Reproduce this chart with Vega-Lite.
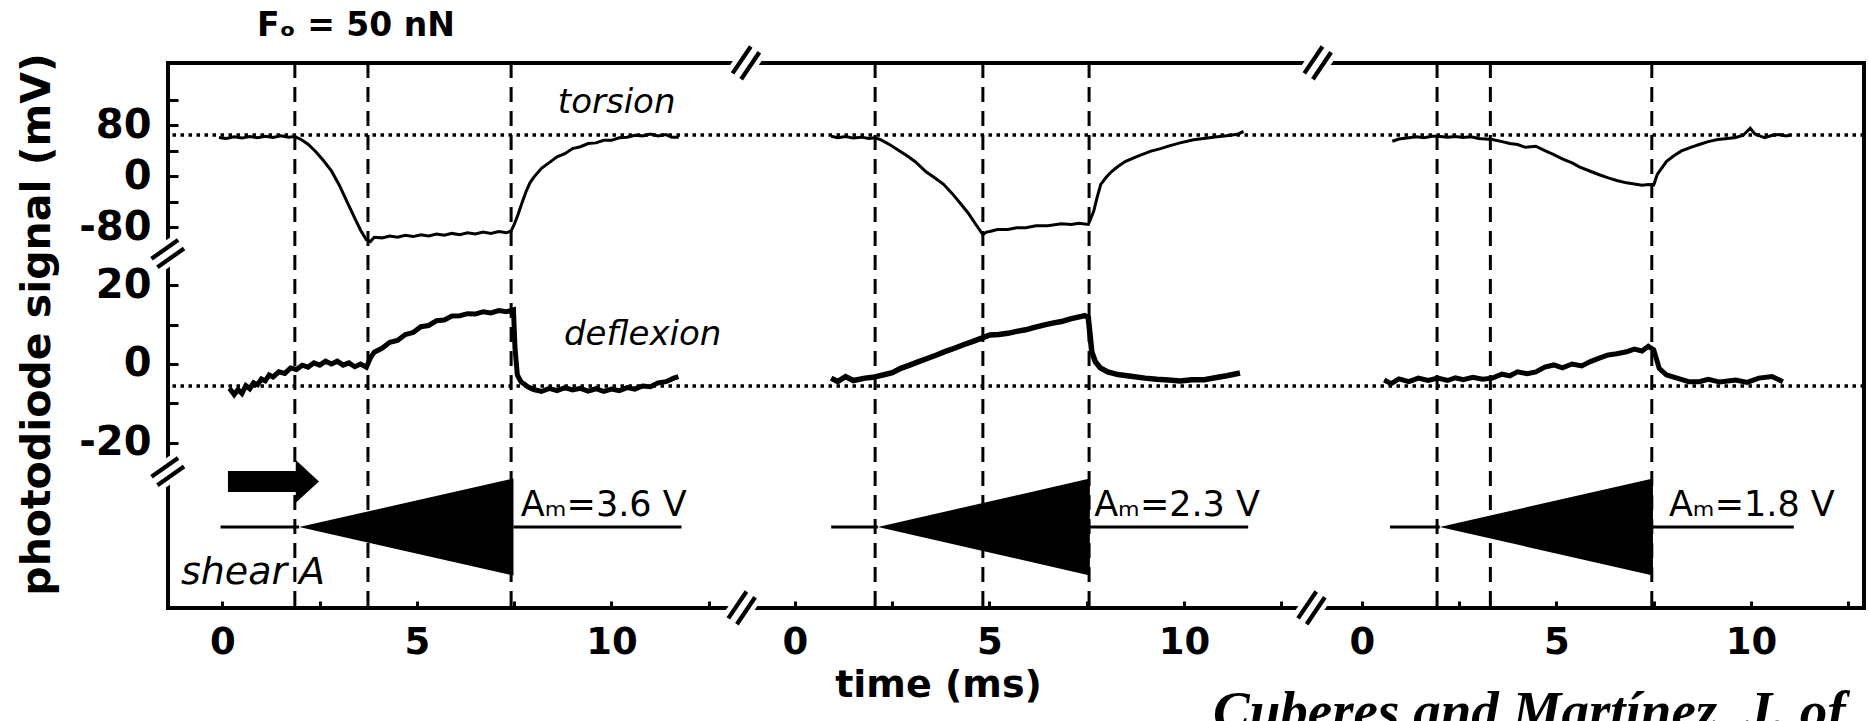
{
  "$schema": "https://vega.github.io/schema/vega-lite/v6.json",
  "width": 1696,
  "height": 545,
  "autosize": {"type": "none"},
  "padding": {"left": 168, "top": 63, "right": 5, "bottom": 113},
  "background": "white",
  "config": {
    "view": {"stroke": "black", "strokeWidth": 4},
    "axis": {"grid": false, "domain": false, "tickColor": "black", "tickWidth": 3, "labelColor": "black", "labelFont": "DejaVu Sans", "labelFontWeight": "bold", "titleColor": "black", "titleFont": "DejaVu Sans", "titleFontWeight": "bold", "labelOverlap": false, "labelFlush": false},
    "axisX": {"tickSize": -7, "labelFontSize": 37, "labelPadding": 23, "titleFontSize": 38},
    "axisY": {"tickSize": -10, "labelFontSize": 40, "labelPadding": 27}
  },
  "datasets": {
    "tor": [
      {"p":1,"t":-0.09,"v":60.5},{"p":1,"t":0.1,"v":59},{"p":1,"t":0.3,"v":61.5},{"p":1,"t":0.5,"v":59.5},{"p":1,"t":0.7,"v":62},{"p":1,"t":0.9,"v":60},{"p":1,"t":1.1,"v":62.5},{"p":1,"t":1.3,"v":60.5},{"p":1,"t":1.5,"v":63},{"p":1,"t":1.7,"v":61},{"p":1,"t":1.85,"v":62},{"p":1,"t":2.0,"v":58},{"p":1,"t":2.2,"v":50},{"p":1,"t":2.4,"v":38},{"p":1,"t":2.6,"v":24},{"p":1,"t":2.8,"v":8},{"p":1,"t":3.0,"v":-14},{"p":1,"t":3.2,"v":-40},{"p":1,"t":3.4,"v":-66},{"p":1,"t":3.55,"v":-85},{"p":1,"t":3.7,"v":-100},{"p":1,"t":3.8,"v":-103},{"p":1,"t":3.9,"v":-96},{"p":1,"t":4.1,"v":-97},{"p":1,"t":4.3,"v":-94},{"p":1,"t":4.5,"v":-96},{"p":1,"t":4.7,"v":-93},{"p":1,"t":4.9,"v":-95},{"p":1,"t":5.1,"v":-92},{"p":1,"t":5.3,"v":-94},{"p":1,"t":5.5,"v":-91},{"p":1,"t":5.7,"v":-93},{"p":1,"t":5.9,"v":-90},{"p":1,"t":6.1,"v":-92},{"p":1,"t":6.3,"v":-89},{"p":1,"t":6.5,"v":-91},{"p":1,"t":6.7,"v":-88},{"p":1,"t":6.9,"v":-90},{"p":1,"t":7.1,"v":-87},{"p":1,"t":7.3,"v":-89},{"p":1,"t":7.42,"v":-86},{"p":1,"t":7.5,"v":-76},{"p":1,"t":7.6,"v":-60},{"p":1,"t":7.7,"v":-42},{"p":1,"t":7.8,"v":-25},{"p":1,"t":7.9,"v":-11},{"p":1,"t":8.0,"v":-2},{"p":1,"t":8.2,"v":12},{"p":1,"t":8.4,"v":21},{"p":1,"t":8.6,"v":30},{"p":1,"t":8.8,"v":35},{"p":1,"t":9.0,"v":43},{"p":1,"t":9.2,"v":46},{"p":1,"t":9.4,"v":51},{"p":1,"t":9.6,"v":52},{"p":1,"t":9.8,"v":56},{"p":1,"t":10.0,"v":56},{"p":1,"t":10.2,"v":60},{"p":1,"t":10.4,"v":61},{"p":1,"t":10.6,"v":64},{"p":1,"t":10.8,"v":63},{"p":1,"t":11.0,"v":66},{"p":1,"t":11.2,"v":63},{"p":1,"t":11.4,"v":65},{"p":1,"t":11.55,"v":61},{"p":1,"t":11.73,"v":61},
      {"p":2,"t":0.93,"v":62.5},{"p":2,"t":1.1,"v":60},{"p":2,"t":1.3,"v":62},{"p":2,"t":1.5,"v":59.5},{"p":2,"t":1.7,"v":61},{"p":2,"t":1.9,"v":59},{"p":2,"t":2.05,"v":60},{"p":2,"t":2.2,"v":57},{"p":2,"t":2.44,"v":49},{"p":2,"t":2.65,"v":41},{"p":2,"t":2.9,"v":31},{"p":2,"t":3.1,"v":22},{"p":2,"t":3.36,"v":7},{"p":2,"t":3.6,"v":-3},{"p":2,"t":3.82,"v":-13},{"p":2,"t":4.05,"v":-28},{"p":2,"t":4.28,"v":-45},{"p":2,"t":4.45,"v":-58},{"p":2,"t":4.65,"v":-76},{"p":2,"t":4.83,"v":-92},{"p":2,"t":4.92,"v":-88},{"p":2,"t":5.01,"v":-87},{"p":2,"t":5.2,"v":-84},{"p":2,"t":5.47,"v":-84},{"p":2,"t":5.7,"v":-81},{"p":2,"t":5.93,"v":-81},{"p":2,"t":6.2,"v":-78},{"p":2,"t":6.5,"v":-78},{"p":2,"t":6.85,"v":-75},{"p":2,"t":7.1,"v":-76},{"p":2,"t":7.3,"v":-74},{"p":2,"t":7.54,"v":-76},{"p":2,"t":7.62,"v":-64},{"p":2,"t":7.68,"v":-55},{"p":2,"t":7.76,"v":-35},{"p":2,"t":7.86,"v":-13},{"p":2,"t":8.0,"v":-2},{"p":2,"t":8.14,"v":7},{"p":2,"t":8.3,"v":15},{"p":2,"t":8.5,"v":23},{"p":2,"t":8.8,"v":31},{"p":2,"t":9.15,"v":39},{"p":2,"t":9.4,"v":43},{"p":2,"t":9.6,"v":47},{"p":2,"t":9.9,"v":52},{"p":2,"t":10.25,"v":57},{"p":2,"t":10.5,"v":59},{"p":2,"t":10.75,"v":61},{"p":2,"t":10.98,"v":62.5},{"p":2,"t":11.2,"v":64},{"p":2,"t":11.4,"v":66},{"p":2,"t":11.53,"v":70},
      {"p":3,"t":0.78,"v":54.6},{"p":3,"t":0.95,"v":58},{"p":3,"t":1.2,"v":60},{"p":3,"t":1.4,"v":61.5},{"p":3,"t":1.6,"v":60},{"p":3,"t":1.8,"v":62.5},{"p":3,"t":1.95,"v":62.5},{"p":3,"t":2.2,"v":61},{"p":3,"t":2.4,"v":62},{"p":3,"t":2.6,"v":60.4},{"p":3,"t":2.8,"v":61.5},{"p":3,"t":3.0,"v":59},{"p":3,"t":3.35,"v":57.3},{"p":3,"t":3.6,"v":54},{"p":3,"t":3.8,"v":51},{"p":3,"t":4.0,"v":49.4},{"p":3,"t":4.2,"v":45},{"p":3,"t":4.47,"v":46.7},{"p":3,"t":4.7,"v":40},{"p":3,"t":4.93,"v":33.7},{"p":3,"t":5.15,"v":27},{"p":3,"t":5.4,"v":20.7},{"p":3,"t":5.6,"v":14},{"p":3,"t":5.87,"v":7.5},{"p":3,"t":6.1,"v":2},{"p":3,"t":6.33,"v":-2.8},{"p":3,"t":6.55,"v":-7},{"p":3,"t":6.8,"v":-10.7},{"p":3,"t":7.0,"v":-12.5},{"p":3,"t":7.2,"v":-14.5},{"p":3,"t":7.36,"v":-13.3},{"p":3,"t":7.5,"v":-14},{"p":3,"t":7.59,"v":2.4},{"p":3,"t":7.7,"v":12},{"p":3,"t":7.83,"v":23},{"p":3,"t":8.0,"v":31},{"p":3,"t":8.2,"v":39},{"p":3,"t":8.45,"v":45},{"p":3,"t":8.67,"v":49.4},{"p":3,"t":8.9,"v":54},{"p":3,"t":9.14,"v":57.3},{"p":3,"t":9.4,"v":59},{"p":3,"t":9.61,"v":60.4},{"p":3,"t":9.8,"v":64},{"p":3,"t":9.98,"v":75},{"p":3,"t":10.1,"v":66},{"p":3,"t":10.35,"v":60},{"p":3,"t":10.55,"v":64},{"p":3,"t":10.72,"v":65},{"p":3,"t":10.9,"v":63},{"p":3,"t":11.0,"v":64}
    ],
    "def": [
      {"p":1,"t":0.18,"v":-6.2},{"p":1,"t":0.3,"v":-7.8},{"p":1,"t":0.4,"v":-6.5},{"p":1,"t":0.5,"v":-7.5},{"p":1,"t":0.6,"v":-5.5},{"p":1,"t":0.7,"v":-6.3},{"p":1,"t":0.8,"v":-4.8},{"p":1,"t":0.9,"v":-5.3},{"p":1,"t":1.0,"v":-3.8},{"p":1,"t":1.1,"v":-4.3},{"p":1,"t":1.2,"v":-2.8},{"p":1,"t":1.3,"v":-3.3},{"p":1,"t":1.45,"v":-2},{"p":1,"t":1.6,"v":-2.4},{"p":1,"t":1.75,"v":-1},{"p":1,"t":1.9,"v":-1.4},{"p":1,"t":2.05,"v":-0.3},{"p":1,"t":2.2,"v":-0.8},{"p":1,"t":2.35,"v":0.3},{"p":1,"t":2.5,"v":-0.3},{"p":1,"t":2.65,"v":0.7},{"p":1,"t":2.8,"v":0},{"p":1,"t":2.95,"v":0.7},{"p":1,"t":3.1,"v":-0.3},{"p":1,"t":3.25,"v":0.3},{"p":1,"t":3.4,"v":-0.7},{"p":1,"t":3.55,"v":0},{"p":1,"t":3.7,"v":-0.8},{"p":1,"t":3.8,"v":1.5},{"p":1,"t":3.9,"v":3},{"p":1,"t":4.1,"v":4},{"p":1,"t":4.3,"v":5.5},{"p":1,"t":4.5,"v":6},{"p":1,"t":4.7,"v":7.5},{"p":1,"t":4.9,"v":8},{"p":1,"t":5.1,"v":9.5},{"p":1,"t":5.3,"v":9.8},{"p":1,"t":5.5,"v":11},{"p":1,"t":5.7,"v":11.2},{"p":1,"t":5.9,"v":12.2},{"p":1,"t":6.1,"v":12.3},{"p":1,"t":6.3,"v":12.8},{"p":1,"t":6.5,"v":12.7},{"p":1,"t":6.7,"v":13.3},{"p":1,"t":6.9,"v":13},{"p":1,"t":7.1,"v":13.6},{"p":1,"t":7.3,"v":13.3},{"p":1,"t":7.48,"v":13.8},{"p":1,"t":7.52,"v":4},{"p":1,"t":7.58,"v":-2.8},{"p":1,"t":7.67,"v":-4.5},{"p":1,"t":7.85,"v":-5.8},{"p":1,"t":8.0,"v":-6.5},{"p":1,"t":8.2,"v":-7},{"p":1,"t":8.4,"v":-6.2},{"p":1,"t":8.6,"v":-6.8},{"p":1,"t":8.8,"v":-6},{"p":1,"t":9.0,"v":-6.6},{"p":1,"t":9.2,"v":-6.2},{"p":1,"t":9.4,"v":-6.9},{"p":1,"t":9.6,"v":-6.3},{"p":1,"t":9.8,"v":-7},{"p":1,"t":10.0,"v":-6.4},{"p":1,"t":10.2,"v":-6.8},{"p":1,"t":10.4,"v":-6},{"p":1,"t":10.6,"v":-6.4},{"p":1,"t":10.8,"v":-5.6},{"p":1,"t":11.0,"v":-5.8},{"p":1,"t":11.2,"v":-4.8},{"p":1,"t":11.4,"v":-4.5},{"p":1,"t":11.6,"v":-3.6},{"p":1,"t":11.72,"v":-3.2},
      {"p":2,"t":0.93,"v":-3.6},{"p":2,"t":1.1,"v":-4.5},{"p":2,"t":1.3,"v":-3.2},{"p":2,"t":1.5,"v":-4.2},{"p":2,"t":1.8,"v":-3.6},{"p":2,"t":2.0,"v":-3.4},{"p":2,"t":2.26,"v":-2.8},{"p":2,"t":2.5,"v":-2.2},{"p":2,"t":2.72,"v":-1.1},{"p":2,"t":2.95,"v":-0.3},{"p":2,"t":3.18,"v":0.6},{"p":2,"t":3.4,"v":1.4},{"p":2,"t":3.64,"v":2.3},{"p":2,"t":3.87,"v":3.2},{"p":2,"t":4.1,"v":4},{"p":2,"t":4.33,"v":4.9},{"p":2,"t":4.56,"v":5.7},{"p":2,"t":4.8,"v":6.6},{"p":2,"t":5.01,"v":7.4},{"p":2,"t":5.24,"v":7.5},{"p":2,"t":5.47,"v":7.8},{"p":2,"t":5.7,"v":8.3},{"p":2,"t":5.93,"v":8.7},{"p":2,"t":6.16,"v":9.3},{"p":2,"t":6.39,"v":9.9},{"p":2,"t":6.62,"v":10.4},{"p":2,"t":6.85,"v":10.8},{"p":2,"t":7.08,"v":11.5},{"p":2,"t":7.31,"v":12},{"p":2,"t":7.45,"v":12.3},{"p":2,"t":7.54,"v":11.8},{"p":2,"t":7.63,"v":3.1},{"p":2,"t":7.72,"v":0.6},{"p":2,"t":7.85,"v":-1},{"p":2,"t":8.04,"v":-2},{"p":2,"t":8.3,"v":-2.7},{"p":2,"t":8.68,"v":-3.2},{"p":2,"t":9.0,"v":-3.6},{"p":2,"t":9.3,"v":-3.9},{"p":2,"t":9.6,"v":-4.1},{"p":2,"t":9.9,"v":-4.3},{"p":2,"t":10.2,"v":-4},{"p":2,"t":10.52,"v":-4},{"p":2,"t":10.8,"v":-3.5},{"p":2,"t":11.1,"v":-3},{"p":2,"t":11.44,"v":-2.3},
      {"p":3,"t":0.57,"v":-4.1},{"p":3,"t":0.75,"v":-5},{"p":3,"t":0.95,"v":-3.8},{"p":3,"t":1.2,"v":-4.5},{"p":3,"t":1.45,"v":-3.6},{"p":3,"t":1.7,"v":-4.2},{"p":3,"t":1.95,"v":-3.6},{"p":3,"t":2.2,"v":-4.2},{"p":3,"t":2.4,"v":-3.5},{"p":3,"t":2.6,"v":-4},{"p":3,"t":2.85,"v":-3.4},{"p":3,"t":3.1,"v":-3.9},{"p":3,"t":3.35,"v":-3.6},{"p":3,"t":3.6,"v":-2.6},{"p":3,"t":3.8,"v":-3},{"p":3,"t":4.0,"v":-2},{"p":3,"t":4.25,"v":-2.5},{"p":3,"t":4.47,"v":-2},{"p":3,"t":4.7,"v":-0.8},{"p":3,"t":4.93,"v":-0.25},{"p":3,"t":5.15,"v":-1},{"p":3,"t":5.4,"v":0},{"p":3,"t":5.65,"v":-0.5},{"p":3,"t":5.87,"v":0.6},{"p":3,"t":6.1,"v":1.5},{"p":3,"t":6.33,"v":2.3},{"p":3,"t":6.55,"v":2.6},{"p":3,"t":6.8,"v":3.1},{"p":3,"t":7.0,"v":3.8},{"p":3,"t":7.2,"v":3.3},{"p":3,"t":7.36,"v":4.5},{"p":3,"t":7.5,"v":3.6},{"p":3,"t":7.64,"v":-1.1},{"p":3,"t":7.83,"v":-2.8},{"p":3,"t":8.1,"v":-3.6},{"p":3,"t":8.4,"v":-4.5},{"p":3,"t":8.67,"v":-4.5},{"p":3,"t":8.9,"v":-3.9},{"p":3,"t":9.2,"v":-4.6},{"p":3,"t":9.61,"v":-4.1},{"p":3,"t":9.9,"v":-4.7},{"p":3,"t":10.2,"v":-3.6},{"p":3,"t":10.54,"v":-3.2},{"p":3,"t":10.82,"v":-4.5}
    ],
    "tri": [
      {"p":1,"t":1.97,"hi":0,"lo":0},{"p":1,"t":7.48,"hi":1,"lo":-1},
      {"p":2,"t":2.13,"hi":0,"lo":0},{"p":2,"t":7.58,"hi":1,"lo":-1},
      {"p":3,"t":2.0,"hi":0,"lo":0},{"p":3,"t":7.48,"hi":1,"lo":-1}
    ],
    "base": [
      {"p":1,"t0":-0.05,"t1":1.97},{"p":1,"t0":7.48,"t1":11.8},
      {"p":2,"t0":0.93,"t1":2.13},{"p":2,"t0":7.58,"t1":11.65},
      {"p":3,"t0":0.72,"t1":2.0},{"p":3,"t0":7.48,"t1":11.1}
    ],
    "ev": [
      {"p":1,"t":1.86},{"p":1,"t":3.74},{"p":1,"t":7.42},
      {"p":2,"t":2.06},{"p":2,"t":4.83},{"p":2,"t":7.56},
      {"p":3,"t":1.93},{"p":3,"t":3.3},{"p":3,"t":7.45}
    ],
    "ref": [{"s":"torsion","v":64.3},{"s":"deflexion","v":-5.6}],
    "notes": [
      {"g":"tor","t":8.62,"v":98.8,"label":"torsion"},
      {"g":"def","t":8.78,"v":4.8,"label":"deflexion"},
      {"g":"shear","t":-1.07,"v":-1.18,"label":"shear A"}
    ],
    "heading": [{"t":0.887,"v":219.6,"label":"Fₒ = 50 nN"}],
    "amp": [
      {"p":1,"t":7.67,"v":0.23,"label":"Aₘ=3.6 V"},
      {"p":2,"t":7.69,"v":0.23,"label":"Aₘ=2.3 V"},
      {"p":3,"t":7.89,"v":0.23,"label":"Aₘ=1.8 V"}
    ],
    "arrow": [{"t":1.31,"v":0.94}],
    "brk": [
      {"k":"h","t":13.46,"v":9.567},{"k":"h","t":28.16,"v":9.567},
      {"k":"h","t":13.35,"v":-1.67},{"k":"h","t":28.0,"v":-1.67},
      {"k":"v","t":-1.401,"v":5.63},{"k":"v","t":-1.401,"v":1.134}
    ],
    "cite": [{"t":-3.83,"v":-4.17,"label":"Cuberes and Martínez, J. of"}]
  },
  "resolve": {"scale": {"x": "independent", "y": "independent"}, "axis": {"x": "independent", "y": "independent"}},
  "layer": [
    {
      "layer": [
        {"data": {"name": "ev"}, "transform": [{"filter": "datum.p == 1"}],
         "mark": {"type": "rule", "color": "black", "strokeWidth": 3, "strokeDash": [15, 9]},
         "encoding": {"x": {"field": "t", "type": "quantitative", "scale": {"domain": [-1.401, 42.199], "nice": false, "zero": false},
           "axis": {"orient": "bottom", "values": [0, 2.5, 5, 7.5, 10, 12.5], "labelExpr": "datum.value == 0 ? '0' : datum.value == 5 ? '5' : datum.value == 10 ? '10' : ''", "title": null}}}},
        {"data": {"name": "ref"}, "transform": [{"filter": "datum.s == 'torsion'"}],
         "mark": {"type": "rule", "color": "black", "strokeWidth": 3.5, "strokeDash": [3.5, 4.5]},
         "encoding": {"y": {"field": "v", "type": "quantitative", "scale": {"domain": [-677.6, 177.3], "nice": false, "zero": false},
           "axis": {"orient": "left", "values": [120, 80, 40, 0, -40, -80], "labelExpr": "datum.value == 80 ? '80' : datum.value == 0 ? '0' : datum.value == -80 ? '-80' : ''", "title": "photodiode signal (mV)", "titleFontSize": 41, "titleAngle": 270, "titleX": -131, "titleY": 261, "titleAlign": "center", "titleBaseline": "middle"}}}},
        {"data": {"name": "tor"}, "transform": [{"filter": "datum.p == 1"}],
         "mark": {"type": "line", "color": "black", "strokeWidth": 3},
         "encoding": {"x": {"field": "t", "type": "quantitative"}, "y": {"field": "v", "type": "quantitative"}}},
        {"data": {"name": "notes"}, "transform": [{"filter": "datum.g == 'tor'"}],
         "mark": {"type": "text", "font": "DejaVu Sans", "fontStyle": "italic", "fontSize": 34, "align": "left", "baseline": "alphabetic", "color": "black"},
         "encoding": {"x": {"field": "t", "type": "quantitative"}, "y": {"field": "v", "type": "quantitative"}, "text": {"field": "label"}}},
        {"data": {"name": "heading"},
         "mark": {"type": "text", "font": "DejaVu Sans", "fontWeight": "bold", "fontSize": 33, "align": "left", "baseline": "alphabetic", "color": "black"},
         "encoding": {"x": {"field": "t", "type": "quantitative"}, "y": {"field": "v", "type": "quantitative"}, "text": {"field": "label"}}}
      ]
    },
    {
      "layer": [
        {"data": {"name": "ref"}, "transform": [{"filter": "datum.s == 'deflexion'"}],
         "mark": {"type": "rule", "color": "black", "strokeWidth": 3.5, "strokeDash": [3.5, 4.5]},
         "encoding": {"y": {"field": "v", "type": "quantitative", "scale": {"domain": [-62.1, 76.6], "nice": false, "zero": false},
           "axis": {"orient": "left", "values": [20, 10, 0, -10, -20], "labelExpr": "datum.value == 20 ? '20' : datum.value == 0 ? '0' : datum.value == -20 ? '-20' : ''", "title": null}}}},
        {"data": {"name": "def"}, "transform": [{"filter": "datum.p == 1"}],
         "mark": {"type": "line", "color": "black", "strokeWidth": 5},
         "encoding": {"x": {"field": "t", "type": "quantitative", "scale": {"domain": [-1.401, 42.199], "nice": false, "zero": false}, "axis": null}, "y": {"field": "v", "type": "quantitative"}}},
        {"data": {"name": "notes"}, "transform": [{"filter": "datum.g == 'def'"}],
         "mark": {"type": "text", "font": "DejaVu Sans", "fontStyle": "italic", "fontSize": 34, "align": "left", "baseline": "alphabetic", "color": "black"},
         "encoding": {"x": {"field": "t", "type": "quantitative"}, "y": {"field": "v", "type": "quantitative"}, "text": {"field": "label"}}}
      ]
    },
    {
      "layer": [
        {"data": {"name": "base"}, "transform": [{"filter": "datum.p == 1"}],
         "mark": {"type": "rule", "color": "black", "strokeWidth": 3},
         "encoding": {"x": {"field": "t0", "type": "quantitative", "scale": {"domain": [-1.401, 42.199], "nice": false, "zero": false}, "axis": null}, "x2": {"field": "t1"},
           "y": {"datum": 0, "type": "quantitative", "scale": {"domain": [-1.67, 9.567], "nice": false, "zero": false}, "axis": null}}},
        {"data": {"name": "tri"}, "transform": [{"filter": "datum.p == 1"}],
         "mark": {"type": "area", "color": "black", "opacity": 1},
         "encoding": {"x": {"field": "t", "type": "quantitative"}, "y": {"field": "hi", "type": "quantitative"}, "y2": {"field": "lo"}}},
        {"data": {"name": "arrow"},
         "mark": {"type": "point", "filled": true, "color": "black", "opacity": 1, "size": 8281, "shape": "M-1,-0.23L0.49,-0.23L0.49,-0.47L1,0L0.49,0.47L0.49,0.23L-1,0.23Z"},
         "encoding": {"x": {"field": "t", "type": "quantitative"}, "y": {"field": "v", "type": "quantitative"}}},
        {"data": {"name": "notes"}, "transform": [{"filter": "datum.g == 'shear'"}],
         "mark": {"type": "text", "font": "DejaVu Sans", "fontStyle": "italic", "fontSize": 38, "align": "left", "baseline": "alphabetic", "color": "black"},
         "encoding": {"x": {"field": "t", "type": "quantitative"}, "y": {"field": "v", "type": "quantitative"}, "text": {"field": "label"}}},
        {"data": {"name": "amp"}, "transform": [{"filter": "datum.p == 1"}],
         "mark": {"type": "text", "font": "DejaVu Sans", "fontSize": 35, "align": "left", "baseline": "alphabetic", "color": "black"},
         "encoding": {"x": {"field": "t", "type": "quantitative"}, "y": {"field": "v", "type": "quantitative"}, "text": {"field": "label"}}},
        {"data": {"name": "brk"}, "transform": [{"filter": "datum.k == 'h'"}],
         "mark": {"type": "text", "text": "=", "font": "DejaVu Sans", "fontSize": 52, "angle": -56, "align": "center", "baseline": "middle", "fill": "white", "stroke": "white", "strokeWidth": 9},
         "encoding": {"x": {"field": "t", "type": "quantitative"}, "y": {"field": "v", "type": "quantitative"}}},
        {"data": {"name": "brk"}, "transform": [{"filter": "datum.k == 'h'"}],
         "mark": {"type": "text", "text": "=", "font": "DejaVu Sans", "fontSize": 52, "angle": -56, "align": "center", "baseline": "middle", "color": "black"},
         "encoding": {"x": {"field": "t", "type": "quantitative"}, "y": {"field": "v", "type": "quantitative"}}},
        {"data": {"name": "brk"}, "transform": [{"filter": "datum.k == 'v'"}],
         "mark": {"type": "text", "text": "=", "font": "DejaVu Sans", "fontSize": 52, "angle": -35, "align": "center", "baseline": "middle", "fill": "white", "stroke": "white", "strokeWidth": 9},
         "encoding": {"x": {"field": "t", "type": "quantitative"}, "y": {"field": "v", "type": "quantitative"}}},
        {"data": {"name": "brk"}, "transform": [{"filter": "datum.k == 'v'"}],
         "mark": {"type": "text", "text": "=", "font": "DejaVu Sans", "fontSize": 52, "angle": -35, "align": "center", "baseline": "middle", "color": "black"},
         "encoding": {"x": {"field": "t", "type": "quantitative"}, "y": {"field": "v", "type": "quantitative"}}}
      ]
    },
    {
      "layer": [
        {"data": {"name": "ev"}, "transform": [{"filter": "datum.p == 2"}],
         "mark": {"type": "rule", "color": "black", "strokeWidth": 3, "strokeDash": [15, 9]},
         "encoding": {"x": {"field": "t", "type": "quantitative", "scale": {"domain": [-16.118, 27.481], "nice": false, "zero": false},
           "axis": {"orient": "bottom", "values": [0, 2.5, 5, 7.5, 10, 12.5], "labelExpr": "datum.value == 0 ? '0' : datum.value == 5 ? '5' : datum.value == 10 ? '10' : ''", "title": "time (ms)", "titleX": 770, "titleY": 88, "titleAlign": "center", "titleBaseline": "alphabetic"}}}},
        {"data": {"name": "tor"}, "transform": [{"filter": "datum.p == 2"}],
         "mark": {"type": "line", "color": "black", "strokeWidth": 3},
         "encoding": {"x": {"field": "t", "type": "quantitative"}, "y": {"field": "v", "type": "quantitative", "scale": {"domain": [-677.6, 177.3], "nice": false, "zero": false}, "axis": null}}}
      ]
    },
    {
      "layer": [
        {"data": {"name": "def"}, "transform": [{"filter": "datum.p == 2"}],
         "mark": {"type": "line", "color": "black", "strokeWidth": 5.5},
         "encoding": {"x": {"field": "t", "type": "quantitative", "scale": {"domain": [-16.118, 27.481], "nice": false, "zero": false}, "axis": null}, "y": {"field": "v", "type": "quantitative", "scale": {"domain": [-62.1, 76.6], "nice": false, "zero": false}, "axis": null}}}
      ]
    },
    {
      "layer": [
        {"data": {"name": "base"}, "transform": [{"filter": "datum.p == 2"}],
         "mark": {"type": "rule", "color": "black", "strokeWidth": 3},
         "encoding": {"x": {"field": "t0", "type": "quantitative", "scale": {"domain": [-16.118, 27.481], "nice": false, "zero": false}, "axis": null}, "x2": {"field": "t1"},
           "y": {"datum": 0, "type": "quantitative", "scale": {"domain": [-1.67, 9.567], "nice": false, "zero": false}, "axis": null}}},
        {"data": {"name": "tri"}, "transform": [{"filter": "datum.p == 2"}],
         "mark": {"type": "area", "color": "black", "opacity": 1},
         "encoding": {"x": {"field": "t", "type": "quantitative"}, "y": {"field": "hi", "type": "quantitative"}, "y2": {"field": "lo"}}},
        {"data": {"name": "amp"}, "transform": [{"filter": "datum.p == 2"}],
         "mark": {"type": "text", "font": "DejaVu Sans", "fontSize": 35, "align": "left", "baseline": "alphabetic", "color": "black"},
         "encoding": {"x": {"field": "t", "type": "quantitative"}, "y": {"field": "v", "type": "quantitative"}, "text": {"field": "label"}}}
      ]
    },
    {
      "layer": [
        {"data": {"name": "ev"}, "transform": [{"filter": "datum.p == 3"}],
         "mark": {"type": "rule", "color": "black", "strokeWidth": 3, "strokeDash": [15, 9]},
         "encoding": {"x": {"field": "t", "type": "quantitative", "scale": {"domain": [-30.694, 12.905], "nice": false, "zero": false},
           "axis": {"orient": "bottom", "values": [0, 2.5, 5, 7.5, 10, 12.5], "labelExpr": "datum.value == 0 ? '0' : datum.value == 5 ? '5' : datum.value == 10 ? '10' : ''", "title": null}}}},
        {"data": {"name": "tor"}, "transform": [{"filter": "datum.p == 3"}],
         "mark": {"type": "line", "color": "black", "strokeWidth": 3},
         "encoding": {"x": {"field": "t", "type": "quantitative"}, "y": {"field": "v", "type": "quantitative", "scale": {"domain": [-677.6, 177.3], "nice": false, "zero": false}, "axis": null}}}
      ]
    },
    {
      "layer": [
        {"data": {"name": "def"}, "transform": [{"filter": "datum.p == 3"}],
         "mark": {"type": "line", "color": "black", "strokeWidth": 5},
         "encoding": {"x": {"field": "t", "type": "quantitative", "scale": {"domain": [-30.694, 12.905], "nice": false, "zero": false}, "axis": null}, "y": {"field": "v", "type": "quantitative", "scale": {"domain": [-62.1, 76.6], "nice": false, "zero": false}, "axis": null}}}
      ]
    },
    {
      "layer": [
        {"data": {"name": "base"}, "transform": [{"filter": "datum.p == 3"}],
         "mark": {"type": "rule", "color": "black", "strokeWidth": 3},
         "encoding": {"x": {"field": "t0", "type": "quantitative", "scale": {"domain": [-30.694, 12.905], "nice": false, "zero": false}, "axis": null}, "x2": {"field": "t1"},
           "y": {"datum": 0, "type": "quantitative", "scale": {"domain": [-1.67, 9.567], "nice": false, "zero": false}, "axis": null}}},
        {"data": {"name": "tri"}, "transform": [{"filter": "datum.p == 3"}],
         "mark": {"type": "area", "color": "black", "opacity": 1},
         "encoding": {"x": {"field": "t", "type": "quantitative"}, "y": {"field": "hi", "type": "quantitative"}, "y2": {"field": "lo"}}},
        {"data": {"name": "amp"}, "transform": [{"filter": "datum.p == 3"}],
         "mark": {"type": "text", "font": "DejaVu Sans", "fontSize": 35, "align": "left", "baseline": "alphabetic", "color": "black"},
         "encoding": {"x": {"field": "t", "type": "quantitative"}, "y": {"field": "v", "type": "quantitative"}, "text": {"field": "label"}}},
        {"data": {"name": "cite"},
         "mark": {"type": "text", "font": "Liberation Serif", "fontStyle": "italic", "fontWeight": "bold", "fontSize": 55, "align": "left", "baseline": "alphabetic", "color": "black"},
         "encoding": {"x": {"field": "t", "type": "quantitative"}, "y": {"field": "v", "type": "quantitative"}, "text": {"field": "label"}}}
      ]
    }
  ]
}
